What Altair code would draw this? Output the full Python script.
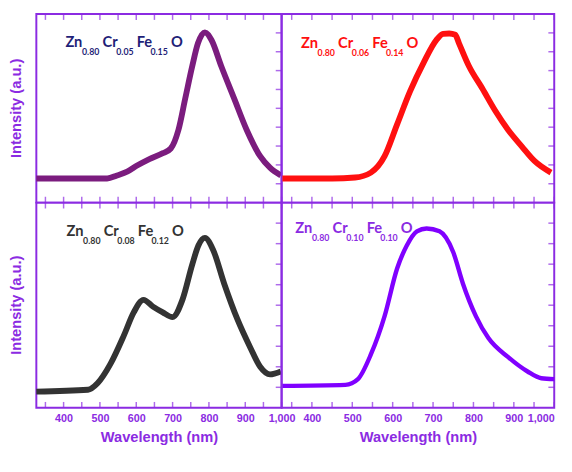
import altair as alt
import pandas as pd

PURPLE = "#8B2BE2"
XDOMAIN = [325, 1000]
XTICKS = list(range(350, 1001, 50))
YTICKS = [round(0.1 * k, 1) for k in range(1, 10)]

# ---- data (wavelength nm, intensity a.u.) ----
tl_wl = [325, 450, 520, 547, 575, 601, 636, 673, 695, 716, 735, 754, 770, 789, 807, 834, 869, 904, 941, 968, 998]
tl_int = [0.128, 0.128, 0.128, 0.144, 0.164, 0.195, 0.231, 0.262, 0.287, 0.385, 0.554, 0.723, 0.846, 0.903,
          0.862, 0.723, 0.554, 0.385, 0.246, 0.185, 0.144]

tr_wl = [327, 450, 507, 546, 580, 611, 643, 677, 708, 725, 740, 755, 764, 789, 822, 854, 886, 920, 951, 992]
tr_int = [0.128, 0.128, 0.133, 0.159, 0.246, 0.415, 0.590, 0.744, 0.862, 0.895, 0.897, 0.89, 0.846, 0.723,
          0.605, 0.487, 0.385, 0.297, 0.221, 0.159]

bl_wl = [325, 467, 494, 529, 566, 593, 620, 646, 673, 700, 727, 754, 771, 789, 811, 842, 878, 914, 941, 968, 998]
bl_int = [0.079, 0.088, 0.121, 0.214, 0.353, 0.465, 0.526, 0.493, 0.465, 0.442, 0.526, 0.698, 0.791, 0.828,
          0.772, 0.605, 0.433, 0.293, 0.200, 0.163, 0.177]

br_wl = [327, 483, 514, 546, 580, 611, 635, 660, 684, 716, 750, 774, 806, 837, 886, 934, 968, 1000]
br_int = [0.107, 0.112, 0.140, 0.260, 0.447, 0.679, 0.791, 0.860, 0.874, 0.860, 0.758, 0.605, 0.447, 0.340,
          0.247, 0.177, 0.144, 0.140]

tl_label = [("Zn", "0.80"), ("Cr", "0.05"), ("Fe", "0.15"), ("O", "")]
tr_label = [("Zn", "0.80"), ("Cr", "0.06"), ("Fe", "0.14"), ("O", "")]
bl_label = [("Zn", "0.80"), ("Cr", "0.08"), ("Fe", "0.12"), ("O", "")]
br_label = [("Zn", "0.80"), ("Cr", "0.10"), ("Fe", "0.10"), ("O", "")]

LABEL_EXPR = "datum.value % 100 == 0 ? format(datum.value, ',') : ''"


def panel(wl, inten, color, sw, label, label_color, anchor, width, height, bottom_labels, left, flush):
    df = pd.DataFrame({"w": wl, "i": inten})
    xt = pd.DataFrame({"w": XTICKS})
    yt = pd.DataFrame({"i": YTICKS})
    xscale = alt.Scale(domain=XDOMAIN, nice=False, zero=False)
    yscale = alt.Scale(domain=[0, 1], nice=False, zero=False)

    if bottom_labels:
        xaxis = alt.Axis(
            orient="bottom", values=XTICKS, labelExpr=LABEL_EXPR, title="Wavelength (nm)",
            labelFlush=flush, domain=False, ticks=False, labelPadding=5,
            labelColor=PURPLE, labelFont="Liberation Sans", labelFontWeight="bold",
            labelFontSize=11, titleColor=PURPLE, titleFont="Liberation Sans", titleFontWeight="bold",
            titleFontSize=15, titlePadding=6, grid=False,
        )
    else:
        xaxis = None

    line = alt.Chart(df).mark_line(color=color, strokeWidth=sw, interpolate="monotone").encode(
        x=alt.X("w:Q", scale=xscale, axis=xaxis),
        y=alt.Y("i:Q", scale=yscale, axis=None),
    )
    bottom_ticks = alt.Chart(xt).mark_tick(color=PURPLE, thickness=1.5, size=6).encode(
        x=alt.X("w:Q", scale=xscale, axis=xaxis), y=alt.value(height - 3),
    )
    top_ticks = alt.Chart(xt).mark_tick(color=PURPLE, thickness=1.5, size=6).encode(
        x=alt.X("w:Q", scale=xscale, axis=xaxis), y=alt.value(3),
    )
    right_ticks = alt.Chart(yt).mark_tick(color=PURPLE, thickness=1.5, size=6).encode(
        y=alt.Y("i:Q", scale=yscale, axis=None), x=alt.value(width - 3),
    )

    layers = [line, bottom_ticks, top_ticks, right_ticks]
    aw, ai = anchor
    dx = 0
    for main, sub in label:
        t = alt.Chart(alt.Data(values=[{}])).mark_text(
            text=main, align="left", baseline="alphabetic", dx=dx, fontSize=15,
            fontWeight="bold", font="Lato", color=label_color,
        ).encode(
            x=alt.XDatum(aw, type="quantitative", scale=xscale, axis=xaxis),
            y=alt.YDatum(ai, type="quantitative", scale=yscale, axis=None),
        )
        layers.append(t)
        dx += 17 if main == "Zn" else 14
        if sub:
            s = alt.Chart(alt.Data(values=[{}])).mark_text(
                text=sub, align="left", baseline="alphabetic", dx=dx, dy=8, fontSize=9,
                fontWeight="bold", font="Lato", color=label_color,
            ).encode(
                x=alt.XDatum(aw, type="quantitative", scale=xscale, axis=xaxis),
                y=alt.YDatum(ai, type="quantitative", scale=yscale, axis=None),
            )
            layers.append(s)
            dx += 21
    if left:
        ytitle = alt.Chart(alt.Data(values=[{}])).mark_text(
            text="Intensity (a.u.)", angle=270, align="center", baseline="middle",
            fontSize=15, fontWeight="bold", font="Liberation Sans", color=PURPLE,
        ).encode(x=alt.value(-21), y=alt.value(height / 2))
        layers.append(ytitle)

    return alt.layer(*layers).properties(width=width, height=height)


TL = panel(tl_wl, tl_int, "#7B1C7E", 6, tl_label, "#1F1F78", (405, 0.826), 251, 193, False, True, False)
TR = panel(tr_wl, tr_int, "#FF1010", 6, tr_label, "#FF1010", (373, 0.82), 279, 193, False, False, True)
BL = panel(bl_wl, bl_int, "#333333", 6, bl_label, "#333333", (408, 0.837), 251, 210, True, True, False)
BR = panel(br_wl, br_int, "#8000FF", 4.5, br_label, "#8A2BE2", (359, 0.85), 279, 210, True, False, True)

chart = alt.concat(
    TL, TR, BL, BR, columns=2, spacing=0, bounds="flush",
).properties(
    padding={"left": 0, "top": 0, "right": 0, "bottom": 0}
).configure_view(stroke=PURPLE, strokeWidth=2)

chart.save("out.html", embed_options={"renderer": "svg", "actions": False})
